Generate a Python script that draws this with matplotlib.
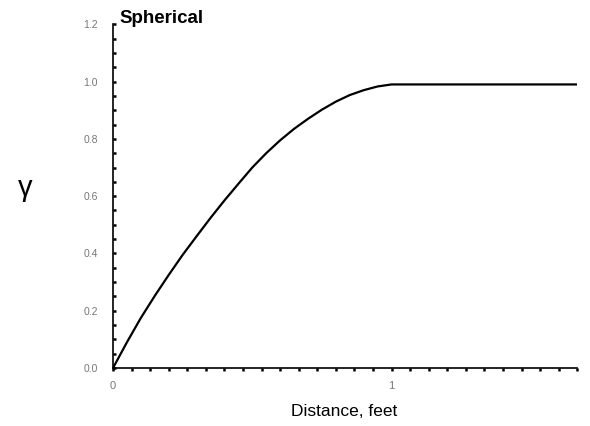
import matplotlib
matplotlib.use("Agg")
import matplotlib.pyplot as plt
from matplotlib.ticker import MultipleLocator, FixedLocator

plt.rcParams['font.family'] = ['Liberation Sans', 'DejaVu Sans']

# spherical semivariogram
distance = [0.0, 0.05, 0.1, 0.15, 0.2, 0.25, 0.3, 0.35, 0.4, 0.45, 0.5, 0.55,
            0.6, 0.65, 0.7, 0.75, 0.8, 0.85, 0.9, 0.95, 1.0, 1.667]
gamma = [0.0, 0.09, 0.175, 0.252, 0.325, 0.395, 0.46, 0.524, 0.585, 0.643, 0.70, 0.75,
         0.795, 0.835, 0.87, 0.902, 0.93, 0.953, 0.97, 0.983, 0.99, 0.99]

y_ticks = [0.0, 0.2, 0.4, 0.6, 0.8, 1.0, 1.2]
y_labels = ["0.0", "0.2", "0.4", "0.6", "0.8", "1.0", "1.2"]
x_ticks = [0, 1]
x_labels = ["0", "1"]

fig = plt.figure(figsize=(5.9, 4.26), dpi=100)
ax = fig.add_axes([0.1915, 0.136, 0.787, 0.807])

ax.plot(distance, gamma, color="black", lw=1.6)

ax.set_xlim(0, 25 / 15)
ax.set_ylim(0, 1.2)

for s in ["top", "right"]:
    ax.spines[s].set_visible(False)
ax.spines["left"].set_linewidth(1.2)
ax.spines["bottom"].set_linewidth(1.2)

ax.set_yticks(y_ticks)
ax.set_yticklabels(y_labels)
ax.set_xticks(x_ticks)
ax.set_xticklabels(x_labels)
ax.yaxis.set_minor_locator(MultipleLocator(0.05))
ax.xaxis.set_minor_locator(FixedLocator([i / 15 for i in range(26)]))

ax.tick_params(axis="y", which="both", direction="in", length=2.2, width=1.8,
               color="black", labelsize=7.5, labelcolor="#777777", pad=11)
ax.tick_params(axis="x", which="both", direction="out", length=2.2, width=1.8,
               color="black", labelsize=8, labelcolor="#777777", pad=7)

fig.text(119 / 590, 1 - 23 / 426, "Spherical", fontsize=13.5, fontweight="bold",
         va="baseline", ha="left")
fig.text(25 / 590, 1 - 188 / 426, "\u03b3", fontsize=21, ha="center", va="center")
fig.text(344 / 590, 1 - 412 / 426, "Distance, feet", fontsize=12.5, ha="center", va="center")

fig.savefig("out.png", dpi=100)
